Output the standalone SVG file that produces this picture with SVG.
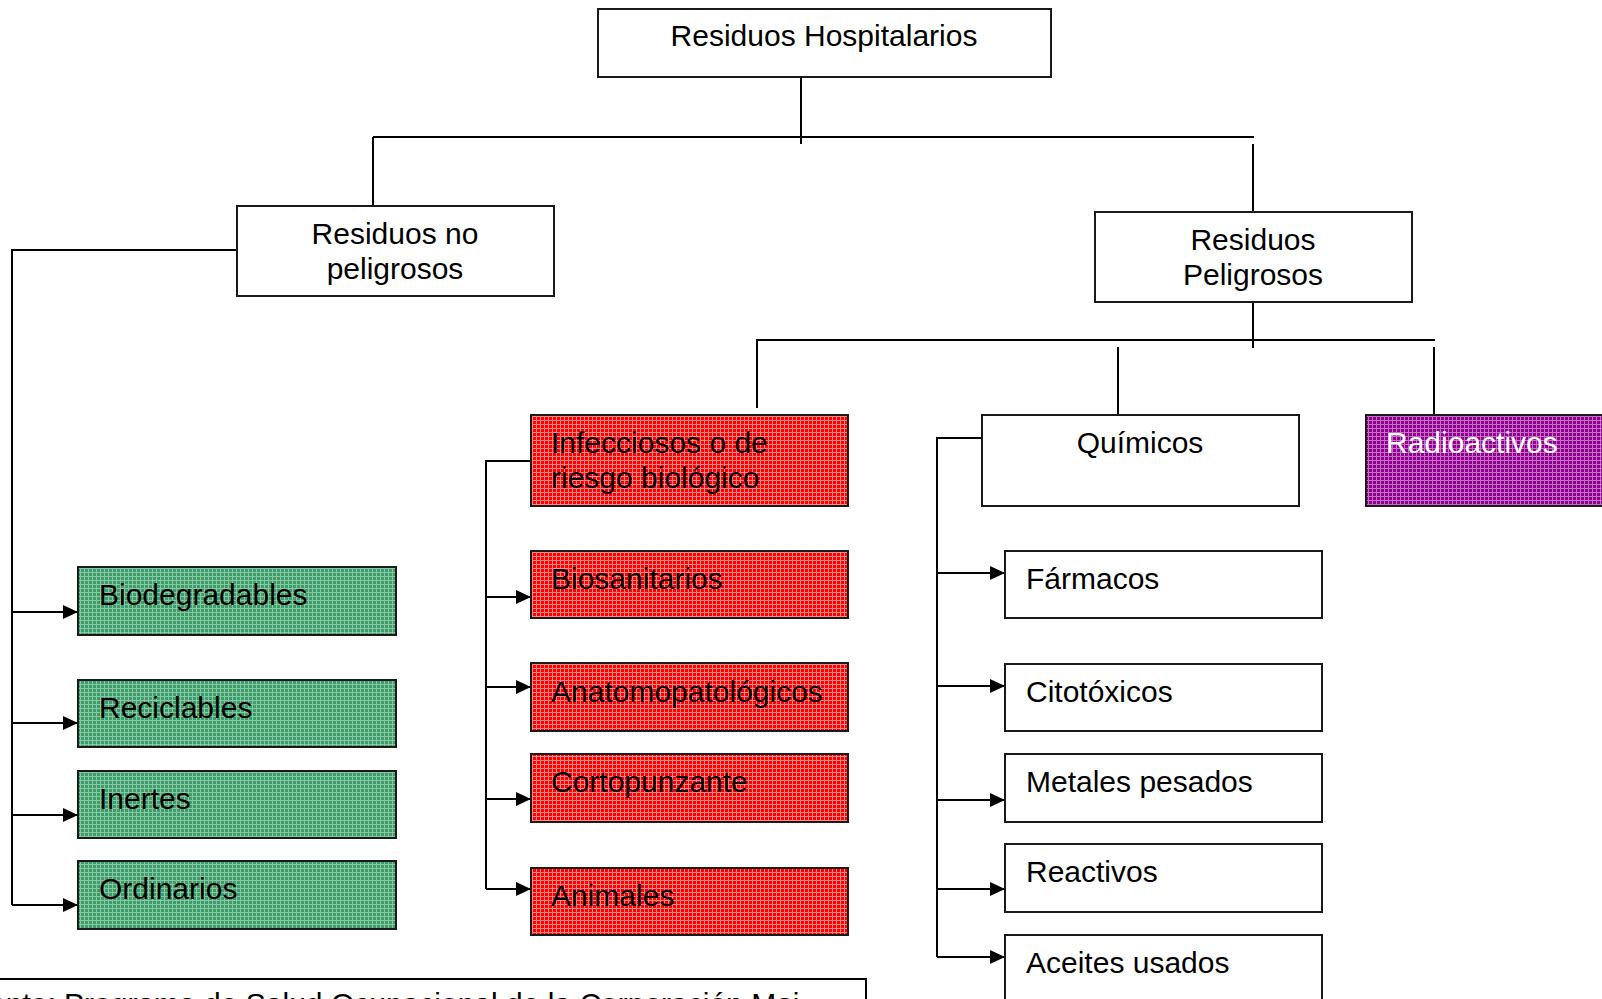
<svg xmlns="http://www.w3.org/2000/svg" width="1602" height="999" viewBox="0 0 1602 999">
  <style>
    .box { stroke: #1a1a1a; stroke-width: 2; }
    .plain { fill: #ffffff; }
    .green { fill: url(#hatchGreen); }
    .red { fill: url(#hatchRed); }
    .purple { fill: url(#hatchPurple); }
    .lbl { font-family: "Liberation Sans", Arial, sans-serif; font-size: 30px; fill: #000000; }
    .mid { text-anchor: middle; }
    .light { fill: #ffffff; }
    .wire { fill: none; stroke: #000000; stroke-width: 2; }
    .arrow { fill: none; stroke: #000000; stroke-width: 2; marker-end: url(#tip); }
  </style>
  <defs>
    <marker id="tip" markerUnits="userSpaceOnUse" markerWidth="16" markerHeight="14" refX="15" refY="7" orient="auto">
      <path d="M0,0 L15,7 L0,14 Z" fill="#000000"/>
    </marker>
    <pattern id="hatchGreen" width="4" height="4" patternUnits="userSpaceOnUse">
      <rect width="4" height="4" fill="#3e9c6b"/>
      <path d="M0 0.5H4M0.5 0V4" stroke="#86c8a2" stroke-width="1"/>
    </pattern>
    <pattern id="hatchRed" width="4" height="4" patternUnits="userSpaceOnUse">
      <rect width="4" height="4" fill="#ff0000"/>
      <path d="M0 0.5H4M0.5 0V4" stroke="#ff8a8a" stroke-width="1"/>
    </pattern>
    <pattern id="hatchPurple" width="4" height="4" patternUnits="userSpaceOnUse">
      <rect width="4" height="4" fill="#8e008e"/>
      <path d="M0 0.5H4M0.5 0V4" stroke="#c870c8" stroke-width="1"/>
    </pattern>
  </defs>

  <rect width="1602" height="999" fill="#ffffff"/>

  <!-- connectors -->
  <g id="connectors">
    <!-- root to the two main branches -->
    <path class="wire" d="M801 77V144"/>
    <path class="wire" d="M373 137H1254"/>
    <path class="wire" d="M373 137V206"/>
    <path class="wire" d="M1253 144V211"/>
    <!-- hazardous branch split -->
    <path class="wire" d="M1253 302V348"/>
    <path class="wire" d="M756 340H1435"/>
    <path class="wire" d="M757 340V408"/>
    <path class="wire" d="M1118 347V415"/>
    <path class="wire" d="M1434 347V415"/>
    <!-- non-hazardous list -->
    <path class="wire" d="M237 250H12V905"/>
    <path class="arrow" d="M12 612H78"/>
    <path class="arrow" d="M12 723H78"/>
    <path class="arrow" d="M12 815H78"/>
    <path class="arrow" d="M12 905H78"/>
    <!-- biological list -->
    <path class="wire" d="M531 461H486V889"/>
    <path class="arrow" d="M486 597H531"/>
    <path class="arrow" d="M486 687H531"/>
    <path class="arrow" d="M486 799H531"/>
    <path class="arrow" d="M486 889H531"/>
    <!-- chemical list -->
    <path class="wire" d="M982 438H937V957"/>
    <path class="arrow" d="M937 573H1005"/>
    <path class="arrow" d="M937 686H1005"/>
    <path class="arrow" d="M937 800H1005"/>
    <path class="arrow" d="M937 889H1005"/>
    <path class="arrow" d="M937 957H1005"/>
  </g>

  <g id="root">
    <rect class="box plain" x="598" y="9" width="453" height="68"/>
    <text class="lbl mid" x="824" y="46">Residuos Hospitalarios</text>
  </g>

  <g id="no-peligrosos">
    <rect class="box plain" x="237" y="206" width="317" height="90"/>
    <text class="lbl mid" x="395" y="244">Residuos no</text>
    <text class="lbl mid" x="395" y="279">peligrosos</text>
  </g>

  <g id="peligrosos">
    <rect class="box plain" x="1095" y="212" width="317" height="90"/>
    <text class="lbl mid" x="1253" y="250">Residuos</text>
    <text class="lbl mid" x="1253" y="285">Peligrosos</text>
  </g>

  <g id="biodegradables">
    <rect class="box green" x="78" y="567" width="318" height="68"/>
    <text class="lbl" x="99" y="605">Biodegradables</text>
  </g>
  <g id="reciclables">
    <rect class="box green" x="78" y="680" width="318" height="67"/>
    <text class="lbl" x="99" y="718">Reciclables</text>
  </g>
  <g id="inertes">
    <rect class="box green" x="78" y="771" width="318" height="67"/>
    <text class="lbl" x="99" y="809">Inertes</text>
  </g>
  <g id="ordinarios">
    <rect class="box green" x="78" y="861" width="318" height="68"/>
    <text class="lbl" x="99" y="899">Ordinarios</text>
  </g>

  <g id="infecciosos">
    <rect class="box red" x="531" y="415" width="317" height="91"/>
    <text class="lbl" x="551" y="453">Infecciosos o de</text>
    <text class="lbl" x="551" y="488">riesgo biológico</text>
  </g>
  <g id="biosanitarios">
    <rect class="box red" x="531" y="551" width="317" height="67"/>
    <text class="lbl" x="551" y="589">Biosanitarios</text>
  </g>
  <g id="anatomopatologicos">
    <rect class="box red" x="531" y="663" width="317" height="68"/>
    <text class="lbl" x="551" y="702">Anatomopatológicos</text>
  </g>
  <g id="cortopunzante">
    <rect class="box red" x="531" y="754" width="317" height="68"/>
    <text class="lbl" x="551" y="792">Cortopunzante</text>
  </g>
  <g id="animales">
    <rect class="box red" x="531" y="868" width="317" height="67"/>
    <text class="lbl" x="551" y="906">Animales</text>
  </g>

  <g id="quimicos">
    <rect class="box plain" x="982" y="415" width="317" height="91"/>
    <text class="lbl mid" x="1140" y="453">Químicos</text>
  </g>
  <g id="radioactivos">
    <rect class="box purple" x="1366" y="415" width="250" height="91"/>
    <text class="lbl light" x="1386" y="453">Radioactivos</text>
  </g>

  <g id="farmacos">
    <rect class="box plain" x="1005" y="551" width="317" height="67"/>
    <text class="lbl" x="1026" y="589">Fármacos</text>
  </g>
  <g id="citotoxicos">
    <rect class="box plain" x="1005" y="664" width="317" height="67"/>
    <text class="lbl" x="1026" y="702">Citotóxicos</text>
  </g>
  <g id="metales">
    <rect class="box plain" x="1005" y="754" width="317" height="68"/>
    <text class="lbl" x="1026" y="792">Metales pesados</text>
  </g>
  <g id="reactivos">
    <rect class="box plain" x="1005" y="844" width="317" height="68"/>
    <text class="lbl" x="1026" y="882">Reactivos</text>
  </g>
  <g id="aceites">
    <rect class="box plain" x="1005" y="935" width="317" height="80"/>
    <text class="lbl" x="1026" y="973">Aceites usados</text>
  </g>

  <!-- source caption box, running past the bottom edge -->
  <g id="fuente">
    <path class="wire" d="M-2 979H866V1020"/>
    <text class="lbl" x="-46" y="1014">Fuente:  Programa de Salud Ocupacional de la Corporación Mai</text>
  </g>
</svg>
